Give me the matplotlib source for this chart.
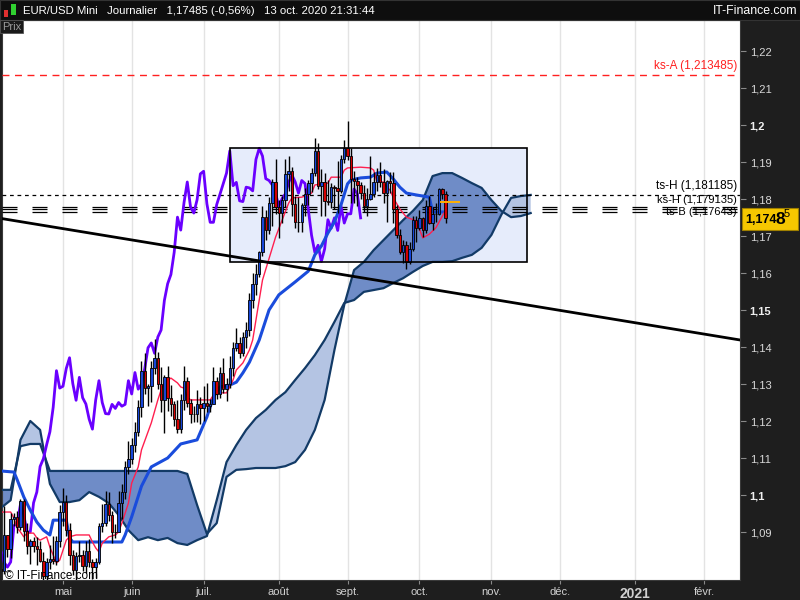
import numpy as np
import pandas as pd
import matplotlib
matplotlib.use("Agg")
import matplotlib.pyplot as plt
from matplotlib.patches import Rectangle

plt.rcParams["font.family"] = ["Liberation Sans", "DejaVu Sans"]

# ---------------- data ----------------
first_day = "2020-04-06"
origin_day = "2020-05-01"
first_open = 1.0801

closes = [
    1.0795, 1.0893, 1.0855, 1.0936, 1.0940, 1.0913, 1.0985, 1.0903, 1.0862, 1.0875,
    1.0863, 1.0855, 1.0822, 1.0780, 1.0820, 1.0826, 1.0822, 1.0876, 1.0955,
    1.0982, 1.0906, 1.0838, 1.0797, 1.0835, 1.0839, 1.0808, 1.0849, 1.0818, 1.0805,
    1.0819, 1.0917, 1.0924, 1.0975, 1.0946, 1.0900, 1.0900, 1.0979, 1.1008, 1.1077, 1.1098,
    1.1136, 1.1171, 1.1237, 1.1336, 1.1289, 1.1294, 1.1342, 1.1371, 1.1301, 1.1256,
    1.1318, 1.1263, 1.1246, 1.1205, 1.1178, 1.1257, 1.1309, 1.1250, 1.1220, 1.1219, 1.1245, 1.1234,
    1.1250, 1.1240, 1.1245, 1.1309, 1.1273, 1.1331, 1.1286, 1.1300, 1.1342, 1.1398,
    1.1411, 1.1383, 1.1427, 1.1446, 1.1526, 1.1571, 1.1596, 1.1656, 1.1751, 1.1716,
    1.1790, 1.1846, 1.1778,
    1.1762, 1.1798, 1.1868, 1.1875, 1.1787, 1.1737, 1.1737, 1.1785, 1.1813, 1.1842,
    1.1870, 1.1930, 1.1836, 1.1845, 1.1795, 1.1793, 1.1832, 1.1830, 1.1822, 1.1907, 1.1937,
    1.1916, 1.1855, 1.1850, 1.1838, 1.1815, 1.1780, 1.1801, 1.1814, 1.1845, 1.1865,
    1.1846, 1.1816, 1.1850, 1.1842, 1.1772, 1.1702, 1.1656, 1.1675, 1.1631, 1.1665, 1.1744, 1.1721,
    1.1749, 1.1715, 1.1781, 1.1735, 1.1760, 1.1760, 1.1827, 1.1814, 1.1749,
]
highs = [
    1.0844, 1.0969, 1.0893, 1.0952, 1.0951, 1.0956, 1.0990, 1.0990, 1.0924, 1.0880,
    1.0886, 1.0887, 1.0876, 1.0847, 1.0829, 1.0866, 1.0890, 1.0889, 1.0973,
    1.1019, 1.1000, 1.0924, 1.0852, 1.0846, 1.0875, 1.0852, 1.0876, 1.0880, 1.0828,
    1.0829, 1.0925, 1.0975, 1.1010, 1.1009, 1.0958, 1.0923, 1.1010, 1.1030, 1.1093, 1.1147,
    1.1155, 1.1196, 1.1257, 1.1361, 1.1384, 1.1299, 1.1361, 1.1422, 1.1386, 1.1347,
    1.1323, 1.1350, 1.1296, 1.1255, 1.1257, 1.1273, 1.1349, 1.1320, 1.1260, 1.1240, 1.1284, 1.1266,
    1.1295, 1.1303, 1.1260, 1.1346, 1.1319, 1.1346, 1.1371, 1.1316, 1.1375, 1.1413,
    1.1452, 1.1426, 1.1441, 1.1468, 1.1546, 1.1601, 1.1625, 1.1660, 1.1781, 1.1770,
    1.1805, 1.1855, 1.1908,
    1.1797, 1.1807, 1.1907, 1.1916, 1.1887, 1.1808, 1.1805, 1.1790, 1.1830, 1.1852,
    1.1884, 1.1966, 1.1951, 1.1882, 1.1870, 1.1852, 1.1844, 1.1837, 1.1904, 1.1920, 1.1960,
    1.2011, 1.1937, 1.1876, 1.1860, 1.1845, 1.1837, 1.1830, 1.1917, 1.1873, 1.1885,
    1.1901, 1.1882, 1.1852, 1.1873, 1.1872, 1.1785, 1.1719, 1.1688, 1.1686, 1.1684, 1.1755, 1.1754,
    1.1771, 1.1752, 1.1797, 1.1809, 1.1778, 1.1790, 1.1831, 1.1829, 1.1822,
]
lows = [
    1.0770, 1.0787, 1.0832, 1.0830, 1.0917, 1.0898, 1.0905, 1.0875, 1.0840, 1.0814,
    1.0845, 1.0812, 1.0819, 1.0755, 1.0727, 1.0800, 1.0813, 1.0812, 1.0860,
    1.0915, 1.0890, 1.0810, 1.0783, 1.0768, 1.0818, 1.0795, 1.0789, 1.0805, 1.0774,
    1.0775, 1.0814, 1.0899, 1.0915, 1.0930, 1.0871, 1.0885, 1.0900, 1.0935, 1.0990, 1.1056,
    1.1085, 1.1117, 1.1160, 1.1211, 1.1272, 1.1240, 1.1252, 1.1328, 1.1286, 1.1223,
    1.1168, 1.1226, 1.1214, 1.1186, 1.1168, 1.1168, 1.1230, 1.1239, 1.1195, 1.1197, 1.1198, 1.1191,
    1.1200, 1.1225, 1.1223, 1.1245, 1.1259, 1.1263, 1.1276, 1.1255, 1.1290, 1.1322,
    1.1390, 1.1370, 1.1375, 1.1398, 1.1430, 1.1505, 1.1540, 1.1588, 1.1647, 1.1689,
    1.1706, 1.1726, 1.1760,
    1.1695, 1.1735, 1.1778, 1.1822, 1.1755, 1.1721, 1.1711, 1.1711, 1.1754, 1.1783,
    1.1818, 1.1861, 1.1827, 1.1753, 1.1754, 1.1785, 1.1775, 1.1773, 1.1762, 1.1816, 1.1898,
    1.1906, 1.1788, 1.1789, 1.1780, 1.1801, 1.1765, 1.1753, 1.1796, 1.1806, 1.1822,
    1.1832, 1.1789, 1.1737, 1.1816, 1.1735, 1.1695, 1.1651, 1.1626, 1.1612, 1.1625, 1.1660, 1.1685,
    1.1715, 1.1696, 1.1707, 1.1732, 1.1717, 1.1739, 1.1756, 1.1799, 1.1735,
]

# Ichimoku lines, bar offsets from 1 May 2020
tenkan_k = [-19, -16, -15, -14, -13, -12, -11, -9, -8, -7, -5, -4, -3, -2, -1, 0, 1, 2, 4, 8,
            9, 10, 11, 12, 14, 16, 17, 18, 19, 20, 21, 23, 24, 27, 29, 30, 31, 33, 35, 36,
            37, 38, 39, 45, 46, 48, 50, 51, 52, 53, 55, 57, 58, 61, 65, 67, 69, 70, 73, 75,
            76, 77, 81, 82, 85, 86, 87, 91, 94, 95, 96, 98, 99, 100, 101, 103, 105, 108, 110, 112,
            114, 116, 117]
tenkan = [1.0954, 1.0954, 1.0938, 1.0911, 1.0900, 1.0887, 1.0897, 1.0897, 1.0884, 1.0878,
          1.0887, 1.0859, 1.0838, 1.0816, 1.0824, 1.0851, 1.0878, 1.0887, 1.0892, 1.0892,
          1.0873, 1.0857, 1.0846, 1.0870, 1.0887, 1.0892, 1.0900, 1.0924, 1.0951, 1.0978,
          1.1032, 1.1076, 1.1122, 1.1195, 1.1257, 1.1284, 1.1303, 1.1316, 1.1303, 1.1292,
          1.1289, 1.1265, 1.1257, 1.1257, 1.1270, 1.1276, 1.1276, 1.1292, 1.1311, 1.1338,
          1.1357, 1.1392, 1.1419, 1.1581, 1.1697, 1.1743, 1.1789, 1.1803, 1.1805, 1.1811,
          1.1816, 1.1838, 1.1843, 1.1859, 1.1859, 1.1878, 1.1884, 1.1886, 1.1884, 1.1878,
          1.1846, 1.1846, 1.1832, 1.1824, 1.1803, 1.1773, 1.1751, 1.1741, 1.1695, 1.1705,
          1.1722, 1.1754, 1.1770]

kijun_k = [-19, -15, -14, -12, -10, -8, -6, -4, -3, 1, 2, 3, 18, 19, 21, 24, 27, 32, 36, 41,
           44, 46, 48, 51, 53, 55, 57, 60, 63, 66, 71, 75, 77, 79, 81, 83, 85, 87, 88, 91,
           94, 96, 99, 101, 103, 105, 108, 112, 113, 117]
kijun = [1.1065, 1.1062, 1.1041, 1.0995, 1.0959, 1.0927, 1.0905, 1.0892, 1.0932, 1.0932,
         1.0884, 1.0873, 1.0873, 1.0892, 1.0941, 1.1024, 1.1076, 1.1100, 1.1138, 1.1149,
         1.1211, 1.1265, 1.1292, 1.1297, 1.1305, 1.1330, 1.1359, 1.1419, 1.1500, 1.1541,
         1.1576, 1.1605, 1.1649, 1.1673, 1.1708, 1.1738, 1.1784, 1.1841, 1.1851, 1.1857,
         1.1859, 1.1870, 1.1873, 1.1854, 1.1832, 1.1816, 1.1811, 1.1805, 1.1765, 1.1765]

# Senkou spans, sampled every 3 bars from -19 to 143
span_a = [1.0965, 1.0986, 1.1149, 1.1200, 1.1176, 1.1030, 1.0981, 1.0981, 1.0986, 1.1008,
          1.0995, 1.0978, 1.0946, 1.0905, 1.0878, 1.0886, 1.0878, 1.0884, 1.0870, 1.0865,
          1.0878, 1.0889, 1.0986, 1.1089, 1.1135, 1.1176, 1.1208, 1.1230, 1.1257, 1.1278,
          1.1311, 1.1343, 1.1378, 1.1419, 1.1468, 1.1519, 1.1527, 1.1549, 1.1554, 1.1559,
          1.1573, 1.1586, 1.1603, 1.1619, 1.1630, 1.1630, 1.1632, 1.1641, 1.1649, 1.1668,
          1.1703, 1.1757, 1.1803, 1.1808, 1.1811]
span_b = [1.1014, 1.1014, 1.1132, 1.1138, 1.1138, 1.1065, 1.1065, 1.1065, 1.1065, 1.1065,
          1.1065, 1.1065, 1.1065, 1.1065, 1.1065, 1.1065, 1.1065, 1.1065, 1.1065, 1.1057,
          1.0973, 1.0895, 1.0924, 1.1049, 1.1068, 1.1070, 1.1073, 1.1073, 1.1073, 1.1078,
          1.1089, 1.1122, 1.1176, 1.1257, 1.1392, 1.1514, 1.1608, 1.1630, 1.1662, 1.1689,
          1.1716, 1.1743, 1.1768, 1.1797, 1.1862, 1.1870, 1.1870, 1.1857, 1.1843, 1.1830,
          1.1797, 1.1768, 1.1751, 1.1754, 1.1762]

month_starts = ["2020-05-01", "2020-06-01", "2020-07-01", "2020-08-03", "2020-09-01",
                "2020-10-01", "2020-11-02", "2020-12-01", "2021-01-01", "2021-02-01"]
month_labels = ["mai", "juin", "juil.", "août", "sept.", "oct.", "nov.", "déc.", "2021", "févr."]

trend_days = ["2020-04-03", "2021-02-16"]
trend_prices = [1.1749, 1.1419]
box_days = ["2020-07-13", "2020-11-17"]
box_prices = [1.1630, 1.1938]

ks_a = 1.213485
ts_h = 1.181185
ks_lines = [1.1779, 1.1772, 1.1765]
last_price = 1.17485

# ---------------- layout ----------------
days = pd.bdate_range("2020-03-01", "2021-03-31")
origin = days.get_loc(pd.Timestamp(origin_day))


def pos(d):
    return days.searchsorted(pd.Timestamp(d)) - origin


n = len(closes)
ck = np.arange(n) + pos(first_day)
closes = np.array(closes)
opens = np.concatenate([[first_open], closes[:-1]])
highs = np.array(highs)
lows = np.array(lows)

W, H = 800, 600
fig = plt.figure(figsize=(8, 6), dpi=100, facecolor="#1e1e1e")
ax = fig.add_axes([2 / W, 20 / H, 738 / W, 560 / H])
ax.set_facecolor("white")
ax.set_xlim(-18.65, 207.0)
ax.set_ylim(1.07703, 1.22838)

for s in ax.spines.values():
    s.set_color("#3a3a3a")

# month grid
mk = [pos(d) for d in month_starts]
for x in mk:
    ax.axvline(x, color="#e3e3e3", lw=1, zorder=0)

# box
bx0, bx1 = pos(box_days[0]), pos(box_days[1])
ax.add_patch(Rectangle((bx0, box_prices[0]), bx1 - bx0, box_prices[1] - box_prices[0],
                       facecolor="#e6ecfb", edgecolor="none", zorder=1))
ax.add_patch(Rectangle((bx0, box_prices[0]), bx1 - bx0, box_prices[1] - box_prices[0],
                       facecolor="none", edgecolor="black", lw=1.2, zorder=9))

# cloud
cloud_k = np.arange(-19, 144, 3)
span_a = np.array(span_a)
span_b = np.array(span_b)
ax.fill_between(cloud_k, span_a, span_b, where=span_b >= span_a, interpolate=True,
                color="#6f8cc7", lw=0, zorder=2)
ax.fill_between(cloud_k, span_a, span_b, where=span_a > span_b, interpolate=True,
                color="#b4c4e3", lw=0, zorder=2)
ax.plot(cloud_k, span_a, color="#123a66", lw=1.6, zorder=3)
ax.plot(cloud_k, span_b, color="#123a66", lw=1.6, zorder=3)

# horizontal levels
ax.axhline(ks_a, color="#ff2020", lw=1, ls=(0, (5, 4)), zorder=4)
ax.axhline(ts_h, color="black", lw=0.9, ls=(0, (3, 3)), zorder=4)
for v in ks_lines:
    ax.axhline(v, color="black", lw=0.9, ls=(0, (12, 12)), zorder=4)

# trend line
ax.plot([pos(d) for d in trend_days], trend_prices, color="black", lw=2, zorder=8)

# chikou, kijun, tenkan
ax.plot(ck - 26, closes, color="#6a00ff", lw=2, zorder=5)
ax.plot(kijun_k, kijun, color="#1a4cdc", lw=2.2, zorder=5)
ax.plot(tenkan_k, tenkan, color="#ff1f4f", lw=1, zorder=6)

# candles
ax.vlines(ck, lows, highs, color="black", lw=1, zorder=7)
up = closes >= opens
ax.bar(ck[up], (closes - opens)[up], bottom=opens[up], width=0.75, color="#1646d8",
       edgecolor="black", lw=0.6, zorder=7.5)
ax.bar(ck[~up], (opens - closes)[~up], bottom=closes[~up], width=0.75, color="#d40000",
       edgecolor="black", lw=0.6, zorder=7.5)

# last-price marker
ax.plot([ck[-1] - 1.3, ck[-1] + 4], [1.1792, 1.1792], color="#ffb000", lw=1.4, zorder=8)

# level labels
ax.text(0.996, ks_a + 0.0008, "ks-A (1,213485)", color="#ff2020", fontsize=8.5,
        ha="right", va="bottom", transform=ax.get_yaxis_transform())
ax.text(0.996, ts_h + 0.0006, "ts-H (1,181185)", color="black", fontsize=8.5,
        ha="right", va="bottom", transform=ax.get_yaxis_transform())
ax.text(0.996, 1.1796, "ks-H (1,179135)", color="black", fontsize=8,
        ha="right", va="center", transform=ax.get_yaxis_transform())
ax.text(0.996, 1.1766, "ts-B (1,17643)", color="black", fontsize=8,
        ha="right", va="center", transform=ax.get_yaxis_transform())
ax.text(0.004, 1.0782, "© IT-Finance.com", color="black", fontsize=8.5,
        ha="left", va="center", transform=ax.get_yaxis_transform(), zorder=10)

# y axis
yt = np.round(np.arange(1.09, 1.2201, 0.01), 2)
ax.yaxis.tick_right()
ax.set_yticks(yt)
ax.set_yticklabels([f"{v:g}".replace(".", ",") for v in yt])
ax.tick_params(axis="y", colors="#8a8a8a", labelcolor="#d8d8d8", length=4, pad=3,
               labelsize=8, direction="out")
for v, lab in zip(yt, ax.get_yticklabels()):
    if v in (1.1, 1.15, 1.2):
        lab.set_fontweight("bold")
        lab.set_color("#f0f0f0")

# x axis
ax.set_xticks(mk)
ax.set_xticklabels(month_labels)
ax.tick_params(axis="x", colors="#8a8a8a", labelcolor="#d0d0d0", length=3, pad=2,
               labelsize=8, direction="out")
for lab in ax.get_xticklabels():
    if lab.get_text() == "2021":
        lab.set_fontweight("bold")
        lab.set_fontsize(10)

# title bar
fig.add_artist(Rectangle((0, 1 - 20 / H), 1, 20 / H, transform=fig.transFigure,
                         facecolor="#0e0e0e", edgecolor="#333333", lw=0.8))
fig.add_artist(Rectangle((4 / W, 1 - 17 / H), 4 / W, 7 / H, transform=fig.transFigure,
                         facecolor="#e03030", edgecolor="none"))
fig.add_artist(Rectangle((11 / W, 1 - 15 / H), 5 / W, 11 / H, transform=fig.transFigure,
                         facecolor="#30d030", edgecolor="none"))
fig.text(23 / W, 1 - 10.5 / H, "EUR/USD Mini   Journalier   1,17485 (-0,56%)   13 oct. 2020 21:31:44",
         color="white", fontsize=8.2, ha="left", va="center")
fig.text(797 / W, 1 - 10.5 / H, "IT-Finance.com", color="white", fontsize=8.8,
         ha="right", va="center")
fig.add_artist(Rectangle((0, 1 - 33 / H), 23 / W, 13 / H, transform=fig.transFigure,
                         facecolor="#1a1a1a", edgecolor="#555555", lw=0.6))
fig.text(2 / W, 1 - 26.5 / H, "Prix", color="#9a9a9a", fontsize=8, ha="left", va="center")

# last price box
fig.add_artist(Rectangle((742 / W, 1 - 230 / H), 56 / W, 22 / H, transform=fig.transFigure,
                         facecolor="#f6c700", edgecolor="#a08000", lw=0.8))
fig.text(745 / W, 1 - 220 / H, "1,174", color="black", fontsize=9, fontweight="bold",
         ha="left", va="center")
fig.text(775 / W, 1 - 219 / H, "8", color="black", fontsize=12.5, fontweight="bold",
         ha="left", va="center")
fig.text(784 / W, 1 - 214 / H, "5", color="black", fontsize=8, ha="left", va="center")

fig.savefig("out.png", dpi=100, facecolor=fig.get_facecolor())
